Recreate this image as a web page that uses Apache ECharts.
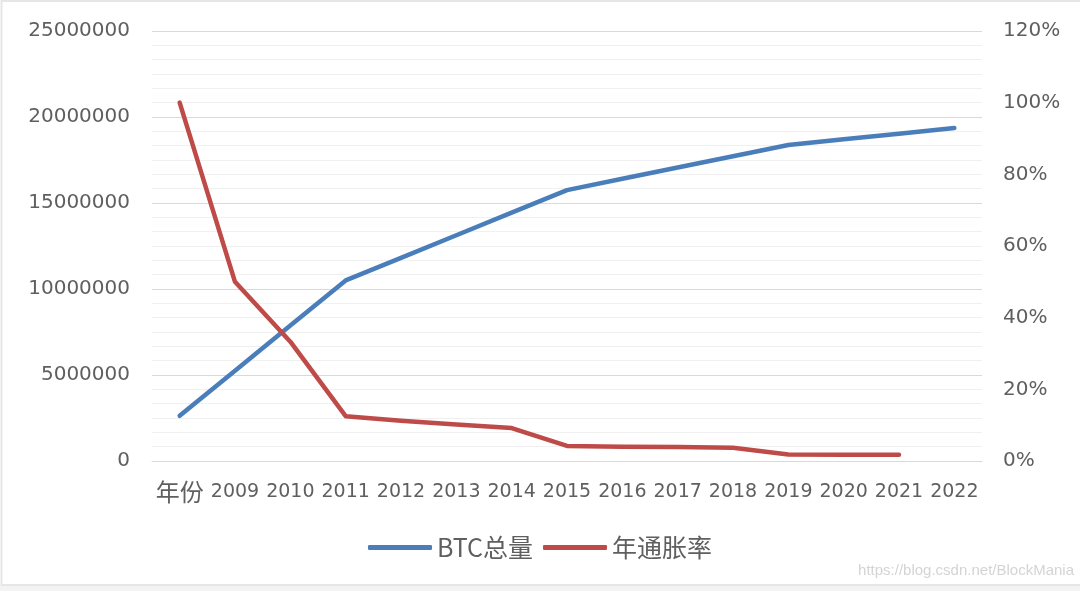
<!DOCTYPE html>
<html>
<head>
<meta charset="utf-8">
<script src="https://cdn.jsdelivr.net/npm/echarts@6/dist/echarts.min.js"></script>
<style>
html,body{margin:0;padding:0;background:#fff;}
#c{width:1080px;height:591px;}
</style>
</head>
<body>
<div id="c"></div>
<script>
var categories = ['年份','2009','2010','2011','2012','2013','2014','2015','2016','2017','2018','2019','2020','2021','2022'];
var btcTotal = [2625000, 5250000, 7875000, 10500000, 11812500, 13125000, 14437500, 15750000, 16406250, 17062500, 17718750, 18375000, 18703125, 19031250, 19359375];
var inflation = [1.00, 0.50, 0.333, 0.125, 0.112, 0.102, 0.092, 0.042, 0.040, 0.039, 0.037, 0.018, 0.0175, 0.0172];
var seriesNames = ['BTC总量', '年通胀率'];
var watermark = 'https://blog.csdn.net/BlockMania';

var chart = echarts.init(document.getElementById('c'), null, {renderer: 'canvas'});
var labelColor = '#5f5f5f';
var numFont = 'DejaVu Sans';
var cjkFont = 'Noto Sans CJK SC';

chart.setOption({
  backgroundColor: '#ffffff',
  animation: false,
  grid: {left: 152, right: 98, top: 31, bottom: 130, containLabel: false},
  legend: {
    data: seriesNames,
    bottom: 26,
    left: 'center',
    icon: 'roundRect',
    itemWidth: 64,
    itemHeight: 5,
    itemGap: 10,
    textStyle: {fontFamily: cjkFont, fontSize: 25, color: labelColor}
  },
  xAxis: {
    type: 'category',
    data: categories,
    boundaryGap: true,
    axisTick: {show: false},
    axisLine: {lineStyle: {color: '#d9d9d9', width: 1}},
    axisLabel: {
      interval: 0,
      margin: 17,
      lineHeight: 28,
      color: labelColor,
      fontFamily: numFont,
      fontSize: 19,
      formatter: function (v) { return /[\u4e00-\u9fff]/.test(v) ? '{c|' + v + '}' : v; },
      rich: {c: {fontFamily: cjkFont, fontSize: 24, lineHeight: 28, color: labelColor}}
    }
  },
  yAxis: [
    {
      type: 'value',
      min: 0, max: 25000000, interval: 5000000,
      axisLine: {show: false}, axisTick: {show: false},
      axisLabel: {margin: 22, color: labelColor, fontFamily: numFont, fontSize: 20,
        formatter: function (v) { return String(v); }},
      splitLine: {show: true, lineStyle: {color: '#d9d9d9', width: 1}},
      minorTick: {show: false, splitNumber: 6},
      minorSplitLine: {show: true, lineStyle: {color: '#f0f0f0', width: 1}}
    },
    {
      type: 'value',
      min: 0, max: 1.2, interval: 0.2,
      axisLine: {show: false}, axisTick: {show: false},
      splitLine: {show: false},
      axisLabel: {
        margin: 21, color: labelColor, fontFamily: numFont, fontSize: 20,
        formatter: function (v) { return Math.round(v * 100) + '%'; }
      }
    }
  ],
  series: [
    {
      name: seriesNames[0], type: 'line', yAxisIndex: 0, data: btcTotal,
      symbol: 'none', smooth: false,
      lineStyle: {color: '#4a7ebb', width: 4.5, cap: 'round', join: 'round'},
      itemStyle: {color: '#4a7ebb'}
    },
    {
      name: seriesNames[1], type: 'line', yAxisIndex: 1, data: inflation,
      symbol: 'none', smooth: false,
      lineStyle: {color: '#be4b48', width: 4.5, cap: 'round', join: 'round'},
      itemStyle: {color: '#be4b48'}
    }
  ],
  graphic: [
    {type: 'rect', silent: true, z: -1, shape: {x: 0, y: 585, width: 1080, height: 6}, style: {fill: '#f3f3f3'}},
    {type: 'rect', silent: true, shape: {x: 1.5, y: 1, width: 1080, height: 584}, style: {fill: 'none', stroke: '#e6e6e6', lineWidth: 2}},
    {type: 'text', silent: true, right: 6, top: 563, style: {text: watermark, fill: '#d4d4d4', font: '15px "Liberation Sans"'}}
  ]
});
</script>
</body>
</html>
